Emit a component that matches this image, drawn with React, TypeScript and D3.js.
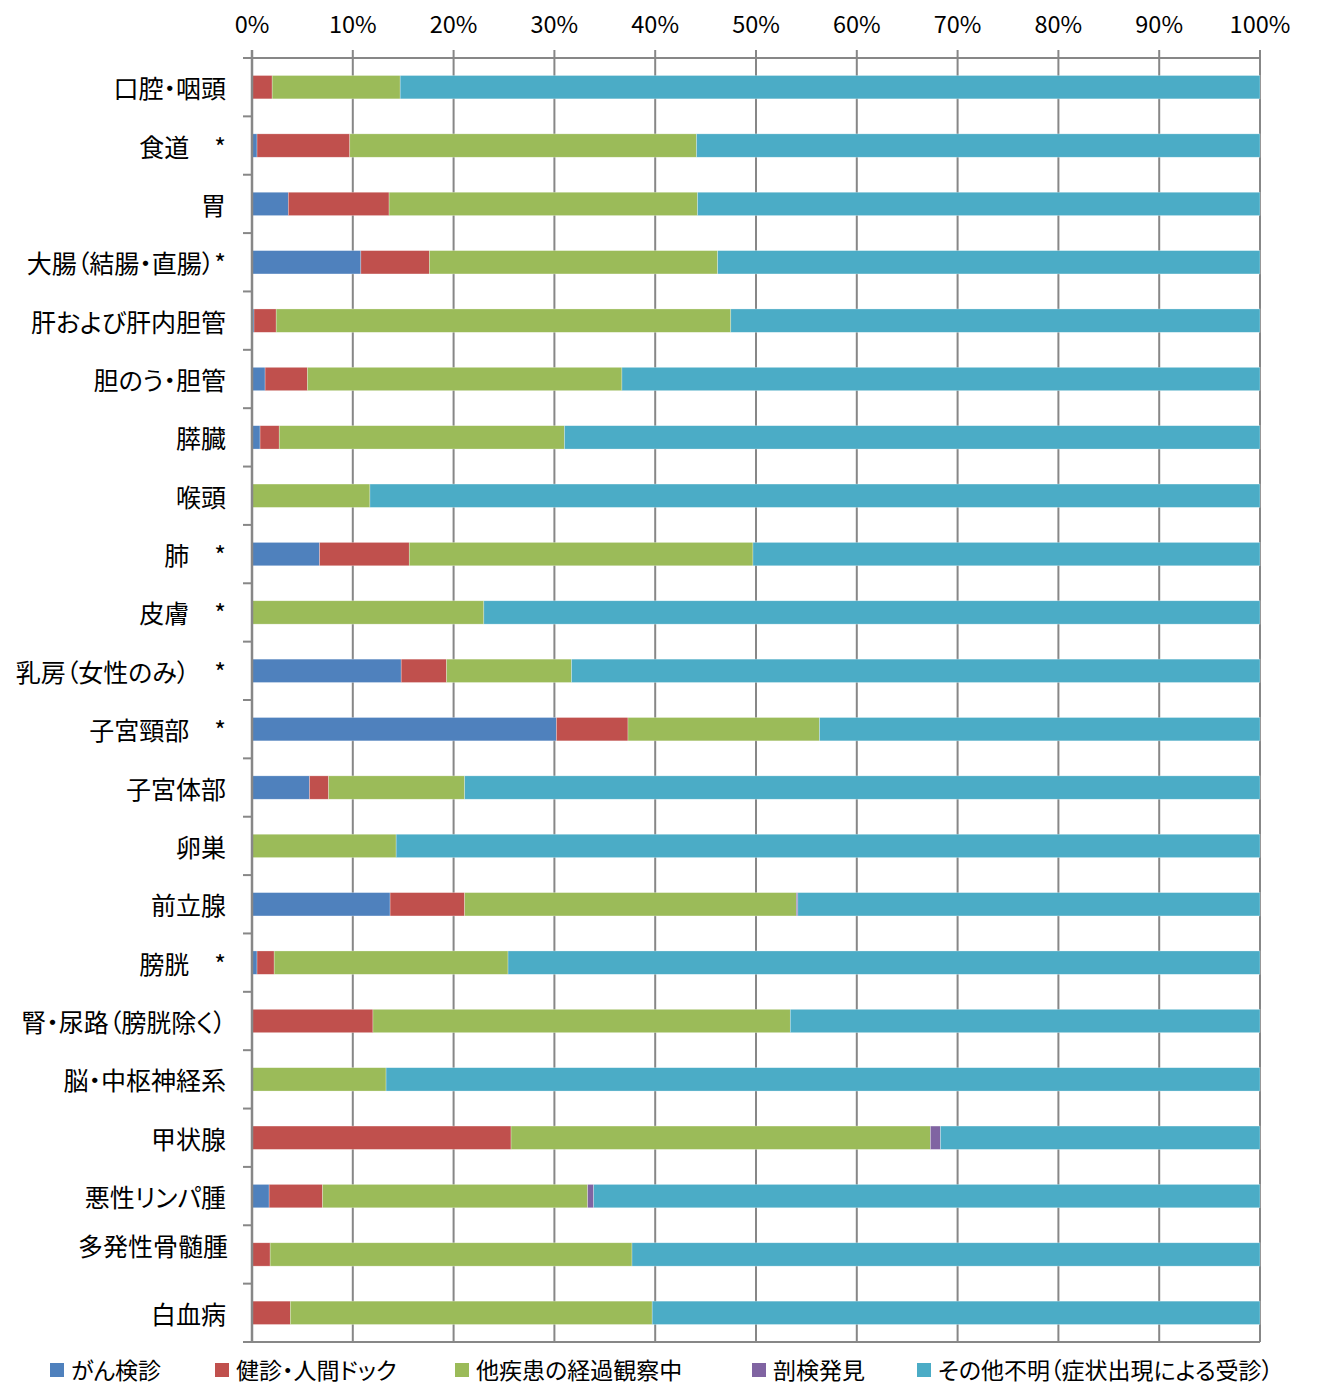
import * as d3 from "d3";
import React from "react";

// categories (top to bottom)
const categories = [
  "口腔・咽頭",
  "食道　*",
  "胃",
  "大腸（結腸・直腸）*",
  "肝および肝内胆管",
  "胆のう・胆管",
  "膵臓",
  "喉頭",
  "肺　*",
  "皮膚　*",
  "乳房（女性のみ）　*",
  "子宮頸部　*",
  "子宮体部",
  "卵巣",
  "前立腺",
  "膀胱　*",
  "腎・尿路（膀胱除く）",
  "脳・中枢神経系",
  "甲状腺",
  "悪性リンパ腫",
  "多発性骨髄腫",
  "白血病",
];

// series values, in %
const kenshin = [0, 0.5, 3.6, 10.8, 0.2, 1.3, 0.8, 0, 6.7, 0, 14.8, 30.2, 5.7, 0, 13.7, 0.5, 0, 0, 0, 1.7, 0, 0];
const dock = [2.0, 9.2, 10.0, 6.8, 2.2, 4.2, 1.9, 0, 8.9, 0, 4.5, 7.1, 1.9, 0, 7.4, 1.7, 12.0, 0, 25.7, 5.3, 1.8, 3.8];
const other = [12.7, 34.4, 30.6, 28.6, 45.1, 31.2, 28.3, 11.7, 34.1, 23.0, 12.4, 19.0, 13.5, 14.3, 32.9, 23.2, 41.4, 13.3, 41.6, 26.3, 35.9, 35.9];
const autopsy = [0, 0, 0, 0, 0, 0, 0, 0, 0, 0, 0, 0, 0, 0, 0.15, 0, 0, 0, 1.0, 0.6, 0, 0];
const unknown = [85.3, 55.9, 55.8, 53.8, 52.5, 63.3, 69.0, 88.3, 50.3, 77.0, 68.3, 43.7, 78.9, 85.7, 45.85, 74.6, 46.6, 86.7, 31.7, 66.1, 62.3, 60.3];

const seriesNames = ["がん検診", "健診・人間ドック", "他疾患の経過観察中", "剖検発見", "その他不明（症状出現による受診）"];
const seriesColors = ["#4F81BD", "#C0504D", "#9BBB59", "#8064A2", "#4BACC6"];
const tickValues = [0, 10, 20, 30, 40, 50, 60, 70, 80, 90, 100];

const W = 1323;
const H = 1387;
const left = 252;
const right = 1260;
const top = 58;
const bottom = 1342;
const font = "'Noto Sans CJK JP', 'Noto Sans', sans-serif";
const gridColor = "#878787";
const palt = { fontFeatureSettings: "'palt'" } as React.CSSProperties;

export default function App() {
  const x = d3.scaleLinear().domain([0, 100]).range([left, right]);
  const y = d3.scaleBand<string>().domain(categories).range([top, bottom]).paddingInner(0.6).paddingOuter(0.3);
  const band = d3.scaleBand<string>().domain(categories).range([top, bottom]);

  const rows = categories.map((c, i) => ({
    cat: c,
    s0: kenshin[i],
    s1: dock[i],
    s2: other[i],
    s3: autopsy[i],
    s4: unknown[i],
  }));
  const keys = ["s0", "s1", "s2", "s3", "s4"];
  const stacked = d3.stack<any>().keys(keys)(rows);

  const legendX = [50, 215, 455, 752, 917];

  return (
    <svg width={W} height={H} style={{ position: "absolute", left: 0, top: 0, background: "#fff" }} fontFamily={font}>
      {/* gridlines */}
      {tickValues.map((t) => (
        <line key={t} x1={x(t)} x2={x(t)} y1={top - 8} y2={bottom} stroke={gridColor} strokeWidth={2} />
      ))}
      {/* top & bottom border */}
      <line x1={left} x2={right} y1={top} y2={top} stroke={gridColor} strokeWidth={2} />
      <line x1={left - 9} x2={right} y1={bottom} y2={bottom} stroke={gridColor} strokeWidth={2} />
      {/* category ticks */}
      {categories.map((c) => (
        <line key={c} x1={left - 9} x2={left} y1={band(c)!} y2={band(c)!} stroke={gridColor} strokeWidth={2} />
      ))}

      {/* bars */}
      {stacked.map((layer, si) => (
        <g key={si} fill={seriesColors[si]}>
          {layer.map((d, i) => {
            const w = x(d[1]) - x(d[0]);
            if (w <= 0) return null;
            return (
              <rect
                key={i}
                x={x(d[0])}
                y={y(categories[i])!}
                width={w}
                height={y.bandwidth()}
                stroke="#ffffff"
                strokeOpacity={0.45}
                strokeWidth={0.6}
              />
            );
          })}
        </g>
      ))}

      {/* left axis line */}
      <line x1={left} x2={left} y1={top - 8} y2={bottom} stroke={gridColor} strokeWidth={2.5} />

      {/* tick labels */}
      {tickValues.map((t) => (
        <text key={t} x={x(t)} y={23} fontSize={23.5} textAnchor="middle" dominantBaseline="central" fill="#000">
          {t}%
        </text>
      ))}

      {/* category labels */}
      {categories.map((c, i) => (
        <text
          key={c}
          x={i === 20 ? 228 : 226}
          y={y(c)! + y.bandwidth() / 2 + (i === 20 ? -9 : 0)}
          fontSize={25}
          textAnchor="end"
          dominantBaseline="central"
          fill="#000"
          style={palt}
        >
          {c}
        </text>
      ))}

      {/* legend */}
      {seriesNames.map((n, i) => (
        <g key={n} transform={`translate(${legendX[i]},1369)`}>
          <rect x={0} y={-6} width={14} height={14} fill={seriesColors[i]} />
          <text x={21} y={0} fontSize={23} dominantBaseline="central" fill="#000" style={palt}>
            {n}
          </text>
        </g>
      ))}
    </svg>
  );
}
